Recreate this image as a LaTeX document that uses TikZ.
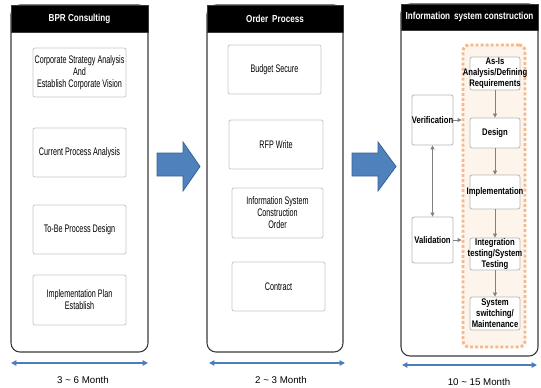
\documentclass[tikz,border=0pt]{standalone}
\usepackage{fontspec}
\setmainfont{Liberation Sans}
\newfontfamily\narrowfont[FakeStretch=0.66]{Liberation Sans}
\newfontfamily\hdrfont[FakeStretch=0.8]{Liberation Sans}
\newfontfamily\rfont[FakeStretch=0.8]{Liberation Sans}
\usetikzlibrary{arrows.meta,fit}
\newdimen\px \px=0.75pt
\definecolor{bigblue}{HTML}{4F81BD}
\definecolor{bigblueedge}{HTML}{3A6494}
\definecolor{spanblue}{HTML}{4A7EBB}
\definecolor{dotorange}{HTML}{F8B888}
\definecolor{dotfill}{HTML}{FDF4EC}
\definecolor{paneledge}{HTML}{3A3A3A}
\tikzset{
  panel/.style={draw=paneledge, line width=0.8pt, rounded corners=9\px, fill=white, inner sep=0pt},
  hdr/.style={fill=black, draw=paneledge, line width=0.6pt, inner sep=0pt},
  hdrtext/.style={text=white, inner sep=0pt, font=\hdrfont\bfseries\fontsize{7.6}{9}\selectfont},
  lbox/.style={draw=black!22, line width=0.6pt, rounded corners=1.5pt, fill=white, inner sep=0pt},
  ltext/.style={align=center, inner sep=0pt, font=\narrowfont\fontsize{8.2}{9}\selectfont},
  rbox/.style={draw=black!28, line width=0.6pt, rounded corners=1.5pt, fill=white, inner sep=0pt},
  rtext/.style={align=center, inner sep=0pt, font=\rfont\bfseries\fontsize{7.2}{8.3}\selectfont},
  dotbox/.style={draw=dotorange, fill=dotfill, line width=2.2pt, dash pattern=on 2.2pt off 1.6pt,
    rounded corners=6\px, inner sep=0pt},
  spanarrow/.style={draw=spanblue, line width=1pt, {Triangle[length=4pt,width=4pt]}-{Triangle[length=4pt,width=4pt]}},
  flow/.style={draw=black!50, line width=0.7pt, -{Triangle[length=3pt,width=3pt]}},
  twoflow/.style={draw=black!50, line width=0.7pt, {Triangle[length=3pt,width=3pt]}-{Triangle[length=3pt,width=3pt]}},
  bigarrow/.style={fill=bigblue, draw=bigblueedge, line width=0.6pt},
  month/.style={inner sep=0pt, font=\fontsize{7.3}{8}\selectfont},
}
\begin{document}
\begin{tikzpicture}[x=0.75pt,y=-0.75pt]
\useasboundingbox (0,0) rectangle (541,387);

% ---------- Panel 1 ----------
\node[panel, fit={(11,5)(148,352)}] (p1) {};
\node[hdr, fit={(11,5)(148,32)}] (h1) {};
\node[hdrtext] (h1t) at (h1.center) {BPR Consulting};
\node[lbox, fit={(33,48)(126,97)}, label={[ltext]center:{Corporate Strategy Analysis\\And\\Establish Corporate Vision}}] (a1) {};
\node[lbox, fit={(33,128)(126,177)}, label={[ltext]center:{Current Process Analysis}}] (a2) {};
\node[lbox, fit={(33,205)(126,254)}, label={[ltext]center:{To-Be Process Design}}] (a3) {};
\node[lbox, fit={(33,275)(126,325)}, label={[ltext]center:{Implementation Plan\\Establish}}] (a4) {};
\coordinate (s1a) at (11,363);
\coordinate (s1b) at (148,363);
\draw[spanarrow] (s1a) -- (s1b);
\node[month] (m1) at (83,380) {3 \textasciitilde{} 6 Month};

% ---------- Big arrow 1 ----------
\draw[bigarrow] (157,153) -- (183,153) -- (183,142) -- (200,166.5) -- (183,191) -- (183,176) -- (157,176) -- cycle;

% ---------- Panel 2 ----------
\node[panel, fit={(207,5)(343,352)}] (p2) {};
\node[hdr, fit={(207,5)(343,32)}] (h2) {};
\node[hdrtext] (h2t) at (h2.center) {Order\, Process};
\node[lbox, fit={(228,45)(321,94)}, label={[ltext]center:{Budget Secure}}] (b1) {};
\node[lbox, fit={(229,120)(323,169)}, label={[ltext]center:{RFP Write}}] (b2) {};
\node[lbox, fit={(232,188)(323,238)}, label={[ltext]center:{Information System\\Construction\\Order}}] (b3) {};
\node[lbox, fit={(232,262)(325,311)}, label={[ltext]center:{Contract}}] (b4) {};
\coordinate (s2a) at (209,363);
\coordinate (s2b) at (345,363);
\draw[spanarrow] (s2a) -- (s2b);
\node[month] (m2) at (281,380) {2 \textasciitilde{} 3 Month};

% ---------- Big arrow 2 ----------
\draw[bigarrow] (352,153) -- (378,153) -- (378,142) -- (396,166.5) -- (378,191) -- (378,176) -- (352,176) -- cycle;

% ---------- Panel 3 ----------
\node[panel, fit={(401,4)(538,356)}] (p3) {};
\node[hdr, fit={(401,4)(538,30)}] (h3) {};
\node[hdrtext] (h3t) at (h3.center) {Information\, system construction};
\node[dotbox, fit={(463,45)(525,347)}] (orng) {};
\node[rbox, fit={(470,57)(520,90)}, label={[rtext]center:{As-Is\\Analysis/Defining\\Requirements}}] (c1) {};
\node[rbox, fit={(470,118)(520,148)}, label={[rtext]center:{Design}}] (c2) {};
\node[rbox, fit={(470,175)(520,209)}, label={[rtext]center:{Implementation}}] (c3) {};
\node[rbox, fit={(470,238)(520,270)}, label={[rtext]center:{Integration\\testing/System\\Testing}}] (c4) {};
\node[rbox, fit={(470,297)(520,330)}, label={[rtext]center:{System\\switching/\\Maintenance}}] (c5) {};
\node[rbox, fit={(412,95)(453,145)}, label={[rtext]center:{Verification}}] (ver) {};
\node[rbox, fit={(412,217)(453,263)}, label={[rtext]center:{Validation}}] (val) {};
\draw[flow] (c1) -- (c2);
\draw[flow] (c2) -- (c3);
\draw[flow] (c3) -- (c4);
\draw[flow] (c4) -- (c5);
\draw[twoflow] (ver) -- (val);
\draw[flow] (ver.east) -- (ver.east -| orng.west);
\draw[flow] (val.east) -- (val.east -| orng.west);
\coordinate (s3a) at (402,365);
\coordinate (s3b) at (537,365);
\draw[spanarrow] (s3a) -- (s3b);
\node[month] (m3) at (479,382) {10 \textasciitilde{} 15 Month};
\end{tikzpicture}
\end{document}
